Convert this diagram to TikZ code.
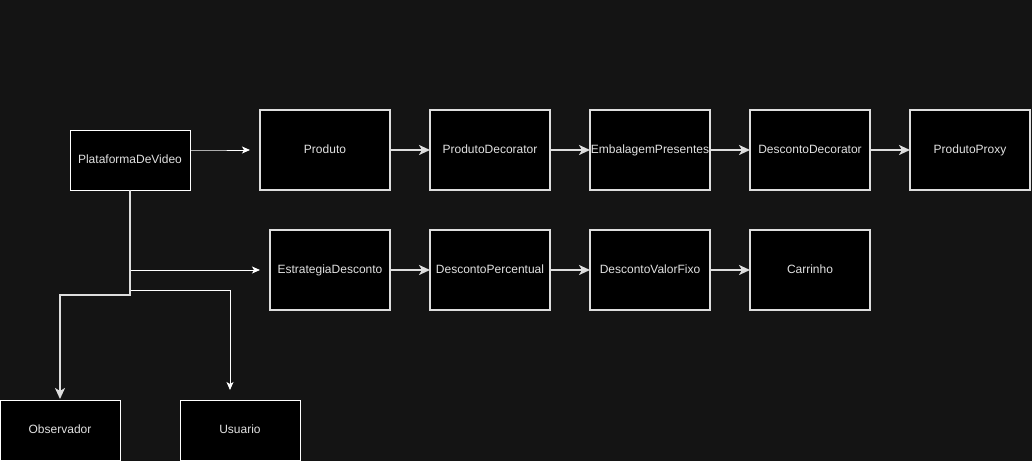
\documentclass[tikz,border=0pt]{standalone}
\usepackage{fontspec}
\setmainfont{Liberation Sans}
\usetikzlibrary{arrows.meta}
\definecolor{bgc}{RGB}{20,20,20}
\definecolor{edgec}{RGB}{222,222,222}
\definecolor{txtc}{RGB}{225,225,225}
\tikzset{
  boxbase/.style={fill=black, text=txtc, inner sep=0pt, outer sep=0pt,
    font=\fontsize{12}{14}\selectfont, text height=8.8pt, text depth=2.6pt},
  bigbox/.style={boxbase, draw=edgec, line width=2pt, minimum width=120pt, minimum height=80pt},
  smallbox/.style={boxbase, draw=white, line width=1pt, minimum width=120pt, minimum height=60pt},
  thickconn/.style={draw=edgec, line width=2pt, -{Stealth[length=11pt,width=10pt,inset=3pt]}},
  thinconn/.style={draw=white, line width=1pt, -{Stealth[length=8pt,width=7pt,inset=2pt]}},
}
\begin{document}
\begin{tikzpicture}[x=1pt,y=-1pt]
\fill[bgc] (0,0) rectangle (1032,461);
\useasboundingbox (0,0) rectangle (1032,461);

\node[smallbox] (pv) at (130,160) {PlataformaDeVideo};

\node[bigbox, minimum width=130pt] (prod) at (325,150) {Produto};
\node[bigbox] (pdec) at (490,150) {ProdutoDecorator};
\node[bigbox] (emb) at (650,150) {EmbalagemPresentes};
\node[bigbox] (ddec) at (810,150) {DescontoDecorator};
\node[bigbox] (prox) at (970,150) {ProdutoProxy};

\node[bigbox] (estr) at (330,270) {EstrategiaDesconto};
\node[bigbox] (dperc) at (490,270) {DescontoPercentual};
\node[bigbox] (dval) at (650,270) {DescontoValorFixo};
\node[bigbox] (carr) at (810,270) {Carrinho};

\node[smallbox] (obs) at (60,430) {Observador};
\node[smallbox] (usu) at (240,430) {Usuario};

% top row chain
\draw[thickconn] (prod.east) -- (pdec.west);
\draw[thickconn] (pdec.east) -- (emb.west);
\draw[thickconn] (emb.east) -- (ddec.west);
\draw[thickconn] (ddec.east) -- (prox.west);
% second row chain
\draw[thickconn] (estr.east) -- (dperc.west);
\draw[thickconn] (dperc.east) -- (dval.west);
\draw[thickconn] (dval.east) -- (carr.west);

% from PlataformaDeVideo
\coordinate (bendA) at (210,150);
\draw[thinconn, shorten >=10pt] (pv.east |- bendA) -- (bendA) -- (prod.west);

\coordinate (j1) at (130,295);
\draw[thickconn, shorten >=1pt] (pv.south) -- (j1) -| (obs.north);

\coordinate (j2) at (131,270);
\draw[thinconn, shorten >=10pt] (j2) -- (estr.west);

\coordinate (j3) at (131,290);
\coordinate (usuin) at (230,400);
\draw[thinconn, shorten >=10pt] (j3) -| (usuin);
\end{tikzpicture}
\end{document}
